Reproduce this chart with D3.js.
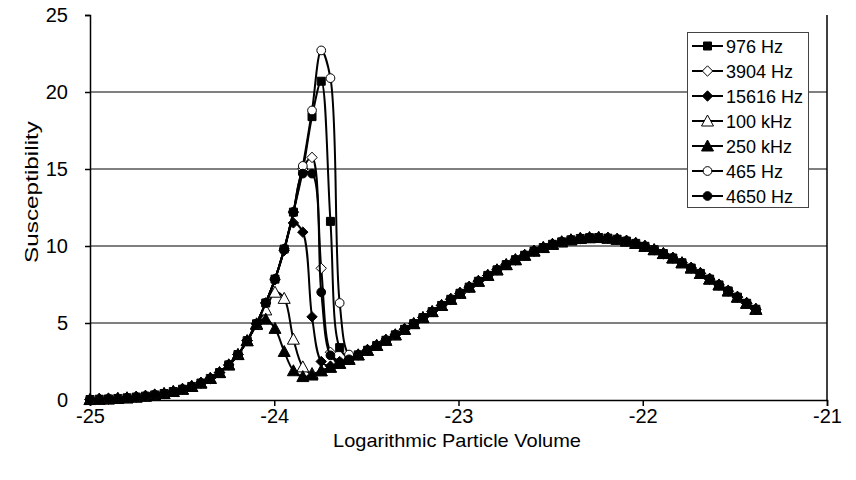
<!DOCTYPE html>
<html><head><meta charset="utf-8">
<script src="https://cdn.jsdelivr.net/npm/d3@7"></script>
<style>body{margin:0;background:#fff}text{font-family:"Liberation Sans",Arial,sans-serif}</style>
</head><body><svg id="chart" width="856" height="480"></svg>
<script>
// x positions (logarithmic particle volume)
const xValues = [-25.000,-24.950,-24.900,-24.849,-24.799,-24.749,-24.699,-24.649,-24.598,-24.548,
  -24.498,-24.448,-24.398,-24.347,-24.297,-24.247,-24.197,-24.147,-24.096,-24.046,
  -23.996,-23.946,-23.896,-23.845,-23.795,-23.745,-23.695,-23.645,-23.594,-23.544,
  -23.494,-23.444,-23.394,-23.343,-23.293,-23.243,-23.193,-23.143,-23.092,-23.042,
  -22.992,-22.942,-22.892,-22.841,-22.791,-22.741,-22.691,-22.641,-22.590,-22.540,
  -22.490,-22.440,-22.390,-22.339,-22.289,-22.239,-22.189,-22.139,-22.088,-22.038,
  -21.988,-21.938,-21.888,-21.837,-21.787,-21.737,-21.687,-21.637,-21.586,-21.536,
  -21.486,-21.436,-21.386];
// shared low-volume part (points 0..17)
const lowShared = [0.03,0.05,0.07,0.10,0.14,0.19,0.25,0.33,0.42,0.55,0.70,0.88,1.10,1.40,1.78,2.28,2.95,3.85];
// per-series peak part (points 18..28)
const peak976   = [4.95,6.30,7.85,9.80,12.2,14.9,18.4,20.7,11.6,3.40,2.75];
const peak3904  = [4.95,6.30,7.85,9.80,12.2,15.0,15.75,8.55,3.10,2.50,2.64];
const peak15616 = [4.95,6.30,7.80,9.70,11.5,10.9,5.40,2.50,2.20,2.38,2.64];
const peak100k  = [4.90,5.85,7.00,6.60,3.95,2.15,1.72,1.90,2.13,2.38,2.64];
const peak250k  = [4.95,5.25,4.65,3.15,1.90,1.52,1.62,1.90,2.13,2.38,2.64];
const peak465   = [4.95,6.30,7.85,9.80,12.2,15.2,18.8,22.7,20.9,6.30,2.95];
const peak4650  = [4.95,6.30,7.85,9.80,12.2,14.7,14.7,7.00,2.90,2.45,2.64];
// shared high-volume part (points 29..72)
const highShared = [2.93,3.23,3.54,3.88,4.23,4.59,4.96,5.35,5.74,6.14,6.54,6.93,7.33,7.71,8.09,8.45,8.79,9.11,9.40,9.67,
  9.90,10.11,10.27,10.40,10.49,10.54,10.55,10.51,10.44,10.32,10.17,9.98,9.76,9.51,9.22,8.91,8.57,8.22,7.85,7.47,
  7.08,6.68,6.28,5.89];
const seriesNames = ["976 Hz","3904 Hz","15616 Hz","100 kHz","250 kHz","465 Hz","4650 Hz"];
const seriesPeaks = [peak976,peak3904,peak15616,peak100k,peak250k,peak465,peak4650];
const markerTypes = ["square","diamond","diamond","triangle","triangle","circle","circle"];
const markerFilled = [true,false,true,false,true,false,true];
const xTicks = [-25,-24,-23,-22,-21];
const yTicks = [0,5,10,15,20,25];

const series = seriesNames.map((name,i)=>({
  name, type:markerTypes[i], filled:markerFilled[i],
  values: lowShared.concat(seriesPeaks[i], highShared).map((v,k)=>({x:xValues[k], y:v}))
}));

const svg = d3.select("#chart");
const L=90, R=827, T=15, B=400;
const x = d3.scaleLinear().domain([-25,-21]).range([L,R]);
const y = d3.scaleLinear().domain([0,25]).range([B,T]);

// gridlines
svg.append("g").selectAll("line").data([5,10,15,20]).join("line")
  .attr("x1",L).attr("x2",R).attr("y1",d=>y(d)).attr("y2",d=>y(d))
  .attr("stroke","#000").attr("stroke-width",1);
// plot border (right side)
svg.append("line").attr("x1",R).attr("x2",R).attr("y1",T).attr("y2",B)
  .attr("stroke","#000").attr("stroke-width",1.5);

// axes
const yAxis = svg.append("g").attr("transform",`translate(${L},0)`)
  .call(d3.axisLeft(y).tickValues(yTicks).tickSize(5).tickPadding(17).tickFormat(d3.format("d")));
const xAxis = svg.append("g").attr("transform",`translate(0,${B})`)
  .call(d3.axisBottom(x).tickValues(xTicks).tickSize(6).tickPadding(3).tickFormat(d=>d<0?"-"+Math.abs(d):d));
[yAxis,xAxis].forEach(a=>{
  a.select(".domain").attr("stroke","#000").attr("stroke-width",1.5);
  a.selectAll(".tick line").attr("stroke","#000").attr("stroke-width",1.5);
  a.selectAll("text").attr("font-size",20).attr("fill","#000").style("font-family","'Liberation Sans',Arial,sans-serif");
});

// axis titles
svg.append("text").attr("x",457).attr("y",447).attr("text-anchor","middle")
  .attr("font-size",19).attr("textLength",248).attr("lengthAdjust","spacingAndGlyphs")
  .text("Logarithmic Particle Volume");
svg.append("text").attr("transform",`translate(38,192) rotate(-90)`).attr("text-anchor","middle")
  .attr("font-size",19).attr("textLength",142).attr("lengthAdjust","spacingAndGlyphs")
  .text("Susceptibility");

function markerPath(type){
  switch(type){
    case "square": return "M-4,-4h8v8h-8z";
    case "diamond": return "M0,-5.2L5.2,0L0,5.2L-5.2,0z";
    case "triangle": return "M0,-6L6,5L-6,5z";
    case "circle": return d3.symbol(d3.symbolCircle,60)();
  }
}

const line = d3.line().x(d=>x(d.x)).y(d=>y(d.y)).curve(d3.curveCatmullRom.alpha(0.5));
const plot = svg.append("g");
series.forEach(s=>{
  const g = plot.append("g");
  g.append("path").attr("d",line(s.values)).attr("fill","none").attr("stroke","#000").attr("stroke-width",2);
  g.selectAll("path.m").data(s.values).join("path").attr("class","m")
    .attr("d",markerPath(s.type)).attr("transform",d=>`translate(${x(d.x)},${y(d.y)})`)
    .attr("fill",s.filled?"#000":"#fff").attr("stroke","#000").attr("stroke-width",1);
});

// legend
const lg = svg.append("g");
lg.append("rect").attr("x",687.5).attr("y",32.5).attr("width",121).attr("height",175)
  .attr("fill","#fff").attr("stroke","#444").attr("stroke-width",1);
series.forEach((s,i)=>{
  const cy = 46 + i*25;
  lg.append("line").attr("x1",692).attr("x2",723).attr("y1",cy).attr("y2",cy).attr("stroke","#000").attr("stroke-width",2);
  lg.append("path").attr("d",markerPath(s.type)).attr("transform",`translate(707.5,${cy})`)
    .attr("fill",s.filled?"#000":"#fff").attr("stroke","#000").attr("stroke-width",1);
  lg.append("text").attr("x",726).attr("y",cy+6.5).attr("font-size",18).text(s.name);
});
</script></body></html>
